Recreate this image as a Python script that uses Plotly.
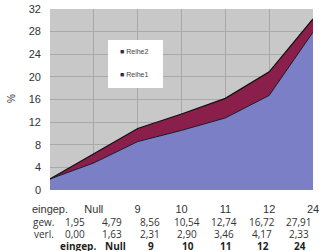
import plotly.graph_objects as go

categories = ["eingep.", "Null", "9", "10", "11", "12", "24"]
gew = [1.95, 4.79, 8.56, 10.54, 12.74, 16.72, 27.91]
verl = [0.00, 1.63, 2.31, 2.90, 3.46, 4.17, 2.33]
gew_txt = ["1,95", "4,79", "8,56", "10,54", "12,74", "16,72", "27,91"]
verl_txt = ["0,00", "1,63", "2,31", "2,90", "3,46", "4,17", "2,33"]
y_ticks = [0, 4, 8, 12, 16, 20, 24, 28, 32]
series_names = ["Reihe1", "Reihe2"]
series_colors = ["#7b80c6", "#8a1f4c"]

W, H = 324, 251
L, R, T, B = 50, 11, 9, 61
pw = W - L - R
ph = H - T - B

xs = list(range(len(categories)))

def px2x(px):
    return (px - L) / pw

def py2y(py):
    return (T + ph - py) / ph

fig = go.Figure()
fig.add_trace(go.Scatter(
    x=xs, y=gew, name=series_names[0], stackgroup="one", mode="lines",
    line=dict(color="#1a1a30", width=1), fillcolor=series_colors[0]))
fig.add_trace(go.Scatter(
    x=xs, y=verl, name=series_names[1], stackgroup="one", mode="lines",
    line=dict(color="#111111", width=1.2), fillcolor=series_colors[1]))

txtfont = dict(family="Open Sans, DejaVu Sans", size=10, color="#333333")
boldfont = dict(family="Open Sans, DejaVu Sans", size=10, color="#1e1e1e")
ann = []
col0, colstep = 75, 37.3
for i in range(len(categories)):
    xp = px2x(col0 + colstep * i)
    ann.append(dict(x=xp, y=py2y(222), xref="paper", yref="paper",
                    text=gew_txt[i], showarrow=False, font=txtfont, xanchor="center", yanchor="middle"))
    ann.append(dict(x=xp, y=py2y(234), xref="paper", yref="paper",
                    text=verl_txt[i], showarrow=False, font=txtfont, xanchor="center", yanchor="middle"))
    ann.append(dict(x=px2x(col0 + colstep * i + (3 if i < 2 else 1)), y=py2y(245.5), xref="paper", yref="paper",
                    text="<b>" + categories[i] + "</b>", showarrow=False, font=boldfont,
                    xanchor="center", yanchor="middle"))
for lbl, yy in [("gew.", 222), ("verl.", 234)]:
    ann.append(dict(x=px2x(56), y=py2y(yy), xref="paper", yref="paper",
                    text=lbl, showarrow=False, font=txtfont, xanchor="right", yanchor="middle"))
ann.append(dict(x=px2x(12), y=py2y(99), xref="paper", yref="paper", text="%", textangle=-90,
                showarrow=False, font=dict(family="Liberation Sans", size=10, color="#333333"),
                xanchor="center", yanchor="middle"))

# legend (drawn box, Reihe2 on top)
shapes = [dict(type="rect", xref="paper", yref="paper", x0=px2x(108), x1=px2x(163),
               y0=py2y(88), y1=py2y(40), fillcolor="white", line=dict(width=0), layer="above")]
for name, color, yy in [(series_names[1], series_colors[1], 52), (series_names[0], series_colors[0], 75)]:
    ann.append(dict(x=px2x(118), y=py2y(yy), xref="paper", yref="paper",
                    text="<span style='color:#3a2a40'>■</span> " + name, showarrow=False,
                    font=dict(family="Liberation Sans", size=7, color="#444444"),
                    xanchor="left", yanchor="middle"))

fig.update_layout(
    width=W, height=H,
    margin=dict(l=L, r=R, t=T, b=B, autoexpand=False),
    paper_bgcolor="white",
    plot_bgcolor="#c8c8c8",
    showlegend=False,
    annotations=ann,
    shapes=shapes,
    xaxis=dict(range=[0, len(categories) - 1], tickvals=xs, ticktext=categories, automargin=False,
               showgrid=True, gridcolor="#a9a9a9", gridwidth=1, zeroline=False,
               showline=False, ticks="", ticklabelstandoff=11,
               tickfont=dict(family="Liberation Sans", size=11, color="#333333")),
    yaxis=dict(range=[0, 32], tickvals=y_ticks, showgrid=True, gridcolor="#a9a9a9", automargin=False,
               zeroline=False, showline=False, ticks="", ticklabelstandoff=8,
               tickfont=dict(family="Liberation Sans", size=11, color="#333333")),
    font=dict(family="Liberation Sans"),
)
fig.write_html("out.html", config={"displayModeBar": False},
               post_script="document.body.style.margin='0px';document.body.style.overflow='hidden';")
